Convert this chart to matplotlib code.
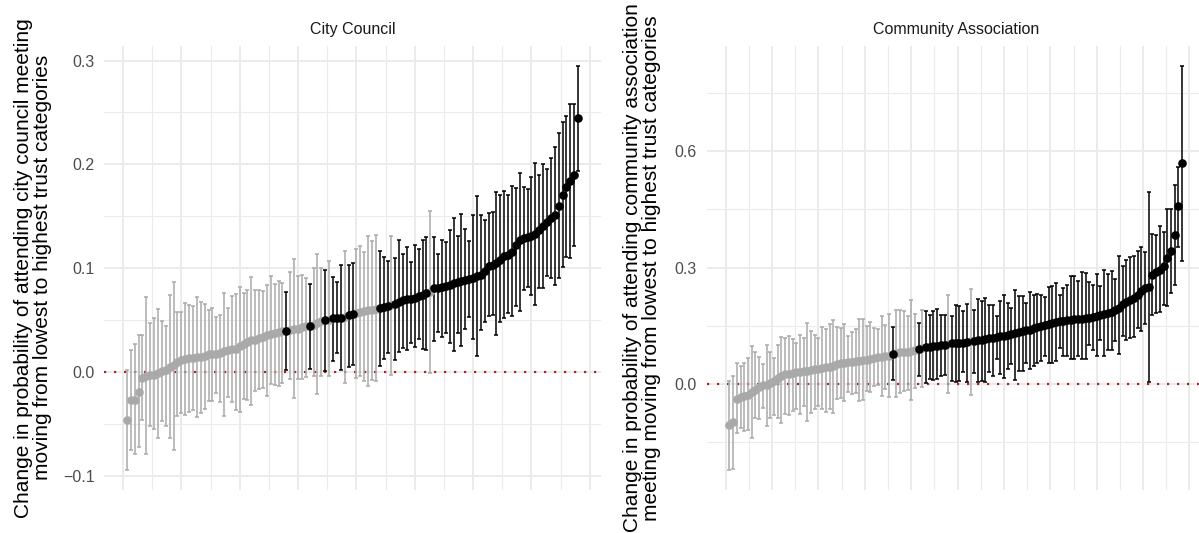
import numpy as np
import matplotlib
matplotlib.use("Agg")
import matplotlib.pyplot as plt
from matplotlib.ticker import FuncFormatter

plt.rcParams['font.family'] = ['Liberation Sans', 'DejaVu Sans']

# City Council: estimate and 95% interval, sorted by estimate
council_est = [
    -0.046, -0.027, -0.027, -0.019, -0.006, -0.004, -0.003, -0.003, -0.001, 0.001,
    0.002, 0.005, 0.007, 0.010, 0.012, 0.013, 0.014, 0.014, 0.015, 0.015,
    0.016, 0.017, 0.017, 0.017, 0.018, 0.020, 0.021, 0.022, 0.022, 0.025,
    0.027, 0.029, 0.031, 0.031, 0.033, 0.034, 0.036, 0.037, 0.038, 0.039,
    0.040, 0.040, 0.041, 0.042, 0.042, 0.043, 0.044, 0.044, 0.045, 0.047,
    0.049, 0.050, 0.050, 0.052, 0.052, 0.052, 0.053, 0.055, 0.056, 0.057,
    0.058, 0.059, 0.060, 0.060, 0.061, 0.062, 0.063, 0.064, 0.065, 0.066,
    0.068, 0.069, 0.070, 0.070, 0.071, 0.073, 0.074, 0.076, 0.077, 0.081,
    0.081, 0.082, 0.083, 0.084, 0.086, 0.087, 0.088, 0.089, 0.090, 0.091,
    0.093, 0.094, 0.097, 0.102, 0.103, 0.105, 0.108, 0.112, 0.113, 0.116,
    0.122, 0.127, 0.129, 0.130, 0.131, 0.133, 0.137, 0.141, 0.145, 0.148,
    0.151, 0.160, 0.171, 0.178, 0.184, 0.190, 0.245,
]
council_lo = [
    -0.094, -0.075, -0.079, -0.072, -0.046, -0.079, -0.052, -0.055, -0.063, -0.047,
    -0.052, -0.063, -0.075, -0.042, -0.039, -0.041, -0.038, -0.036, -0.043, -0.039,
    -0.035, -0.028, -0.028, -0.020, -0.029, -0.042, -0.024, -0.029, -0.036, -0.038,
    -0.026, -0.027, -0.032, -0.018, -0.016, -0.015, -0.023, -0.011, -0.012, -0.013,
    -0.010, 0.002, -0.007, -0.025, -0.007, -0.007, -0.005, 0.003, -0.004, -0.021,
    -0.004, 0.001, -0.004, 0.011, 0.018, 0.002, -0.010, 0.005, 0.007, -0.006,
    -0.004, -0.009, -0.013, -0.008, -0.009, 0.006, 0.013, 0.018, -0.003, 0.012,
    0.019, 0.023, 0.021, 0.028, 0.024, 0.032, 0.022, 0.021, -0.001, 0.030,
    0.039, 0.034, 0.038, 0.028, 0.020, 0.038, 0.025, 0.042, 0.053, 0.032,
    0.016, 0.041, 0.048, 0.054, 0.055, 0.036, 0.048, 0.052, 0.057, 0.054,
    0.064, 0.059, 0.079, 0.082, 0.074, 0.065, 0.081, 0.081, 0.093, 0.091,
    0.084, 0.091, 0.101, 0.111, 0.110, 0.121, 0.194,
]
council_hi = [
    0.002, 0.021, 0.027, 0.036, 0.036, 0.072, 0.047, 0.052, 0.061, 0.049,
    0.044, 0.074, 0.087, 0.058, 0.058, 0.067, 0.065, 0.064, 0.072, 0.068,
    0.066, 0.060, 0.062, 0.053, 0.055, 0.076, 0.062, 0.073, 0.075, 0.082,
    0.076, 0.079, 0.092, 0.079, 0.079, 0.078, 0.084, 0.093, 0.085, 0.088,
    0.086, 0.077, 0.096, 0.109, 0.093, 0.094, 0.091, 0.085, 0.100, 0.114,
    0.100, 0.098, 0.107, 0.092, 0.087, 0.103, 0.117, 0.103, 0.105, 0.119,
    0.121, 0.116, 0.131, 0.126, 0.132, 0.117, 0.111, 0.107, 0.131, 0.110,
    0.127, 0.114, 0.120, 0.106, 0.122, 0.119, 0.127, 0.130, 0.155, 0.130,
    0.114, 0.127, 0.125, 0.137, 0.148, 0.131, 0.152, 0.138, 0.126, 0.151,
    0.170, 0.151, 0.146, 0.153, 0.154, 0.173, 0.171, 0.174, 0.171, 0.179,
    0.177, 0.192, 0.178, 0.176, 0.188, 0.201, 0.190, 0.200, 0.196, 0.206,
    0.217, 0.230, 0.241, 0.247, 0.258, 0.258, 0.295,
]

# Community Association
assoc_est = [
    -0.107, -0.099, -0.038, -0.034, -0.032, -0.028, -0.022, -0.015, -0.009, -0.004,
    -0.002, 0.003, 0.008, 0.014, 0.020, 0.024, 0.026, 0.028, 0.030, 0.031,
    0.032, 0.034, 0.035, 0.037, 0.039, 0.041, 0.043, 0.044, 0.047, 0.052,
    0.053, 0.054, 0.055, 0.056, 0.058, 0.060, 0.061, 0.062, 0.064, 0.066,
    0.068, 0.070, 0.071, 0.073, 0.077, 0.079, 0.081, 0.082, 0.083, 0.085,
    0.087, 0.089, 0.092, 0.095, 0.096, 0.097, 0.098, 0.099, 0.100, 0.103,
    0.104, 0.104, 0.105, 0.106, 0.107, 0.110, 0.111, 0.113, 0.114, 0.116,
    0.117, 0.119, 0.121, 0.123, 0.124, 0.127, 0.129, 0.131, 0.134, 0.136,
    0.139, 0.140, 0.143, 0.146, 0.148, 0.151, 0.154, 0.157, 0.159, 0.162,
    0.163, 0.164, 0.165, 0.166, 0.167, 0.168, 0.169, 0.171, 0.173, 0.175,
    0.177, 0.179, 0.182, 0.185, 0.190, 0.196, 0.205, 0.212, 0.217, 0.222,
    0.230, 0.240, 0.246, 0.250, 0.281, 0.288, 0.294, 0.303, 0.324, 0.342,
    0.385, 0.460, 0.569,
]
assoc_lo = [
    -0.222, -0.219, -0.126, -0.113, -0.122, -0.118, -0.139, -0.088, -0.092, -0.062,
    -0.109, -0.088, -0.081, -0.088, -0.102, -0.079, -0.081, -0.071, -0.066, -0.079,
    -0.058, -0.096, -0.075, -0.066, -0.058, -0.066, -0.073, -0.066, -0.076, -0.040,
    -0.036, -0.045, -0.021, -0.026, -0.023, -0.045, -0.042, -0.019, -0.021, -0.006,
    -0.004, -0.032, -0.013, -0.034, 0.011, -0.034, -0.023, -0.019, -0.015, -0.042,
    -0.010, 0.021, -0.008, 0.003, 0.013, 0.009, 0.013, 0.020, 0.022, -0.025,
    0.007, 0.004, 0.007, 0.030, 0.004, -0.028, 0.028, 0.004, 0.007, 0.004,
    0.030, 0.021, 0.063, 0.026, 0.014, 0.037, 0.050, 0.011, 0.033, 0.033,
    0.054, 0.039, 0.045, 0.054, 0.058, 0.073, 0.054, 0.054, 0.058, 0.093,
    0.071, 0.071, 0.063, 0.063, 0.071, 0.063, 0.063, 0.101, 0.086, 0.071,
    0.114, 0.071, 0.088, 0.087, 0.110, 0.078, 0.123, 0.112, 0.118, 0.120,
    0.144, 0.137, 0.155, 0.004, 0.178, 0.183, 0.185, 0.204, 0.200, 0.234,
    0.256, 0.352, 0.318,
]
assoc_hi = [
    0.007, 0.021, 0.054, 0.047, 0.054, 0.067, 0.097, 0.081, 0.070, 0.051,
    0.101, 0.082, 0.067, 0.099, 0.121, 0.117, 0.123, 0.116, 0.104, 0.127,
    0.118, 0.157, 0.136, 0.125, 0.117, 0.147, 0.142, 0.155, 0.164, 0.146,
    0.144, 0.155, 0.123, 0.134, 0.142, 0.166, 0.166, 0.148, 0.159, 0.144,
    0.142, 0.176, 0.153, 0.181, 0.146, 0.191, 0.190, 0.187, 0.176, 0.215,
    0.180, 0.157, 0.190, 0.187, 0.178, 0.187, 0.194, 0.178, 0.178, 0.230,
    0.176, 0.204, 0.202, 0.187, 0.207, 0.245, 0.191, 0.219, 0.213, 0.221,
    0.204, 0.204, 0.176, 0.213, 0.228, 0.209, 0.196, 0.241, 0.227, 0.227,
    0.209, 0.236, 0.230, 0.231, 0.230, 0.223, 0.251, 0.252, 0.260, 0.230,
    0.247, 0.256, 0.277, 0.277, 0.266, 0.288, 0.286, 0.263, 0.254, 0.284,
    0.252, 0.294, 0.284, 0.290, 0.270, 0.330, 0.305, 0.320, 0.326, 0.330,
    0.342, 0.352, 0.340, 0.496, 0.387, 0.385, 0.408, 0.393, 0.450, 0.450,
    0.513, 0.560, 0.821,
]

council_yticks = [-0.1, 0.0, 0.1, 0.2, 0.3]
assoc_yticks = [0.0, 0.3, 0.6]

GRID = '#EBEBEB'
GRAY = '#A9A9A9'


def fmt(v, pos):
    s = f"{v:.1f}"
    if s == "-0.0":
        s = "0.0"
    return s.replace('-', '\u2212')


def draw_panel(ax, est, lo, hi, title, yticks, xstep):
    est, lo, hi = np.asarray(est), np.asarray(lo), np.asarray(hi)
    n = len(est)
    x = np.arange(1, n + 1)
    sig = (lo > 0) | (hi < 0)

    ax.axhline(0, color='#B22222', ls=(0, (1, 3.5)), lw=1.6, zorder=1)
    for mask, col in ((~sig, GRAY), (sig, 'black')):
        ax.errorbar(x[mask], est[mask],
                    yerr=[est[mask] - lo[mask], hi[mask] - est[mask]],
                    fmt='none', ecolor=col, elinewidth=1.1, capsize=1.3,
                    capthick=1.1, zorder=2)
    for mask, col in ((~sig, GRAY), (sig, 'black')):
        ax.plot(x[mask], est[mask], 'o', color=col, ms=6.2, mec='none', zorder=3)

    # ggplot-like 5% expansion
    xpad = 0.05 * (n - 1)
    ax.set_xlim(1 - xpad, n + xpad)
    ymin, ymax = lo.min(), hi.max()
    ypad = 0.05 * (ymax - ymin)
    ax.set_ylim(ymin - ypad, ymax + ypad)

    ax.set_xticks(np.arange(0, n + xpad, xstep))
    ax.set_xticks(np.arange(xstep / 2, n + xpad, xstep), minor=True)
    ax.set_yticks(yticks)
    ystep = yticks[1] - yticks[0]
    ym = np.arange(yticks[0] - ystep / 2, ymax + ypad, ystep)
    ax.set_yticks([v for v in ym if ymin - ypad < v < ymax + ypad], minor=True)
    ax.yaxis.set_major_formatter(FuncFormatter(fmt))
    ax.set_xticklabels([])

    ax.grid(which='major', color=GRID, lw=1.4)
    ax.grid(which='minor', color=GRID, lw=0.8)
    ax.set_axisbelow(True)
    for s in ax.spines.values():
        s.set_visible(False)
    ax.tick_params(which='both', length=0)
    ax.tick_params(axis='y', labelsize=11.5, labelcolor='#4D4D4D', pad=7)

    ax.text(0.5, 1 + 16 / 444.5, title, transform=ax.transAxes,
            ha='center', va='center', fontsize=11.5, color='#1A1A1A')


fig = plt.figure(figsize=(11.99, 5.33), dpi=100)
W, H = 1199, 533
ax1 = fig.add_axes([104.3 / W, 43 / H, 496.4 / W, 444.5 / H])
ax2 = fig.add_axes([706.8 / W, 43 / H, 497.9 / W, 444.5 / H])

draw_panel(ax1, council_est, council_lo, council_hi, 'City Council', council_yticks, 15)
draw_panel(ax2, assoc_est, assoc_lo, assoc_hi, 'Community Association', assoc_yticks, 12.5)

fig.text(33 / W, 1 - 267.8 / H,
         'Change in probability of attending city council meeting\n'
         'moving from lowest to highest trust categories',
         rotation=90, ha='center', va='center', ma='center', fontsize=15,
         linespacing=1.0)
fig.text(642 / W, 1 - 267.8 / H,
         'Change in probability of attending community association\n'
         'meeting moving from lowest to highest trust categories',
         rotation=90, ha='center', va='center', ma='center', fontsize=15,
         linespacing=1.0)

fig.savefig('out.png', dpi=100)
